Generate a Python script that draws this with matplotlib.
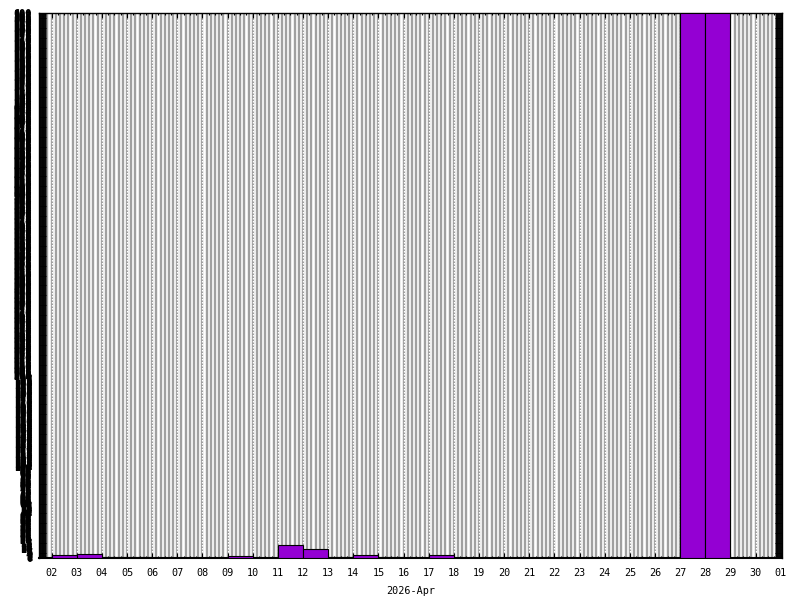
import numpy as np
import matplotlib
matplotlib.use('Agg')
import matplotlib.pyplot as plt
from matplotlib.ticker import MultipleLocator, FixedLocator

# day of April each bar starts on (one bar per day)
days = [2, 3, 4, 5, 6, 7, 8, 9, 10, 11, 12, 13, 14, 15, 16, 17, 18, 19, 20,
        21, 22, 23, 24, 25, 26, 27, 28, 29, 30]
values = [3, 4, 1, 1, 0, 0, 0, 2, 0, 14, 10, 1, 3, 1, 0, 3, 0, 0, 0,
          0, 0, 0, 0, 0, 0, 600, 600, 0, 0]

# x tick positions (Apr 2 .. May 1) and labels
tick_days = list(range(2, 32))
tick_labels = ['%02d' % d for d in range(2, 31)] + ['01']
y_max = 600

plt.rcParams['font.family'] = 'DejaVu Sans Mono'

fig = plt.figure(figsize=(8, 6), dpi=100)
ax = fig.add_axes([39 / 800, 1 - 558 / 600, 743 / 800, 545 / 600])

x0, x1 = 1.5, 31.05
ax.set_xlim(x0, x1)
ax.set_ylim(0, y_max)

# gray background stripes every 4 hours
stripes = np.arange(2 - 2 / 6, x1, 1 / 6)
ax.vlines(stripes, 0, 1, transform=ax.get_xaxis_transform(),
          colors='#a0a0a0', linewidth=1.7, zorder=0.5)
# white dotted lines at each day
for d in tick_days:
    ax.axvline(d, color='white', linewidth=0.9, linestyle=(0, (1.2, 1.2)), zorder=0.6)

ax.bar(days, values, width=1, align='edge', color='#9400d3',
       edgecolor='black', linewidth=0.8, zorder=3)

# x axis
ax.xaxis.set_major_locator(FixedLocator(tick_days))
ax.set_xticklabels(tick_labels)
ax.xaxis.set_minor_locator(MultipleLocator(0.25))
ax.tick_params(axis='x', which='major', direction='in', length=3.5, width=0.8,
               top=True, bottom=True, labelsize=7.3, pad=7)
ax.tick_params(axis='x', which='minor', direction='in', length=1.5, width=0.8,
               top=True, bottom=True)
ax.set_xlabel('2026-Apr', fontsize=7.3, labelpad=6)

# y axis: a tick on every unit
ax.yaxis.set_major_locator(MultipleLocator(1))
ax.tick_params(axis='y', which='major', direction='in', length=5, width=0.7,
               left=True, right=True, labelsize=7.3, pad=5)
for lab in ax.get_yticklabels():
    lab.set_fontweight('bold')

for side in ['top', 'left', 'right']:
    ax.spines[side].set_linewidth(1)
ax.spines['bottom'].set_linewidth(1.5)

fig.savefig('out.png', dpi=100)
